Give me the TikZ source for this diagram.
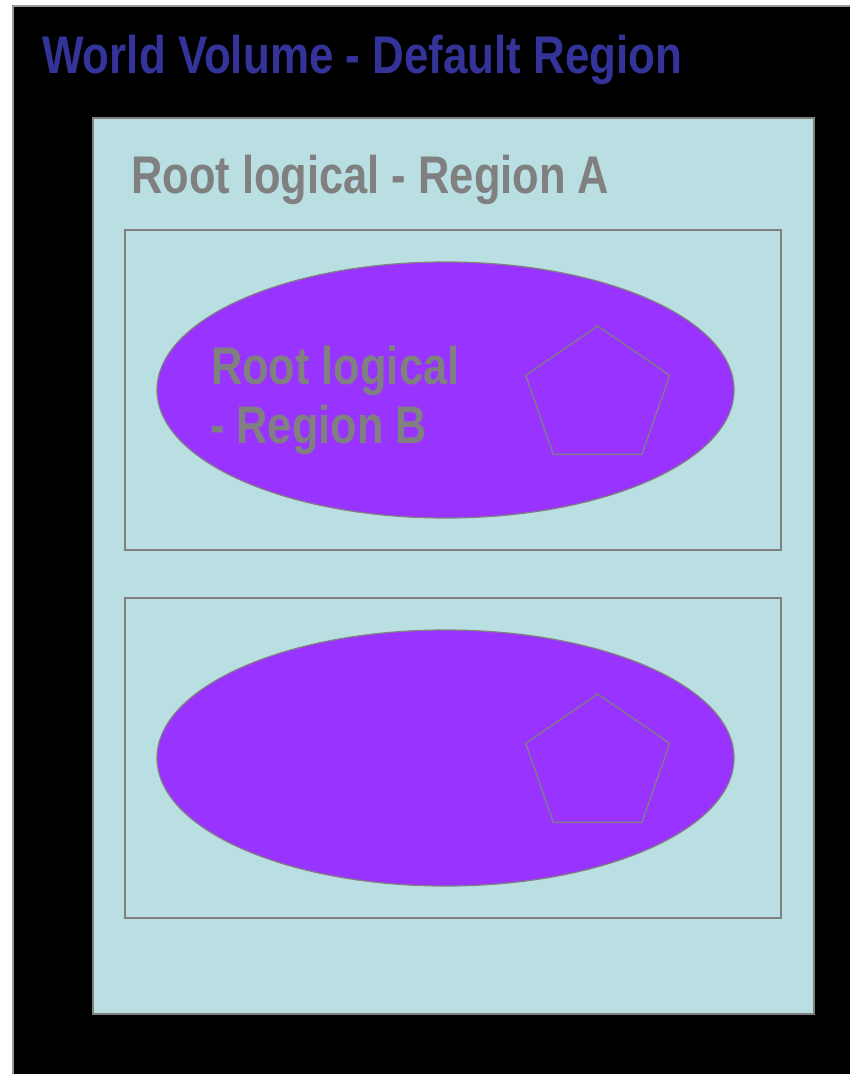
\documentclass[tikz,border=0pt]{standalone}
\usepackage{fontspec}
\setmainfont{Liberation Sans}
\definecolor{worldblue}{HTML}{333399}
\definecolor{txtgray}{HTML}{808080}
\definecolor{lightcyan}{HTML}{B9DFE3}
\definecolor{violet}{HTML}{9933FF}
\tikzset{
  bigtext/.style={inner sep=0pt, font=\bfseries\fontsize{53}{59}\selectfont},
  worldbox/.style={fill=black, draw=gray!80, line width=2pt},
  regionbox/.style={fill=lightcyan, draw=txtgray, line width=2.5pt},
  innerbox/.style={draw=txtgray, line width=1.5pt},
  lens/.style={fill=violet, draw=txtgray, line width=1.2pt},
  penta/.style={draw=txtgray, line width=1.3pt, line join=miter},
}
\begin{document}
\begin{tikzpicture}[x=1pt,y=-1pt]
\useasboundingbox (0,0) rectangle (850,1074);
\fill[white] (0,0) rectangle (850,1074);
\begin{scope}
\clip (0,0) rectangle (850,1074);
\draw[worldbox] (13,6) rectangle (870,1094);
\end{scope}
\node[bigtext, text=worldblue, anchor=base west] (world) at (42,73.5) {\scalebox{0.829}[1]{World Volume - Default Region}};
\draw[regionbox] (93,118) rectangle (814,1014);
\node[bigtext, text=txtgray, anchor=base west] (rega) at (131,193.3) {\scalebox{0.82}[1]{Root logical - Region A}};
% upper daughter
\draw[innerbox] (125,230) rectangle (781,550);
\draw[lens] (445.5,390) ellipse [x radius=288.5pt, y radius=128pt];
\node[bigtext, text=txtgray, anchor=base west] (regb1) at (211,384.3) {\scalebox{0.818}[1]{Root logical}};
\node[bigtext, text=txtgray, anchor=base west] (regb2) at (210,443.3) {\scalebox{0.818}[1]{- Region B}};
\draw[penta] (597.7,326) -- (669.7,375.3) -- (642,454.3) -- (553.3,454.3) -- (525.7,375.3) -- cycle;
% lower daughter
\draw[innerbox] (125,598) rectangle (781,918);
\draw[lens] (445.5,758) ellipse [x radius=288.5pt, y radius=128pt];
\draw[penta] (597.7,694) -- (669.7,743.3) -- (642,822.3) -- (553.3,822.3) -- (525.7,743.3) -- cycle;
\end{tikzpicture}
\end{document}
